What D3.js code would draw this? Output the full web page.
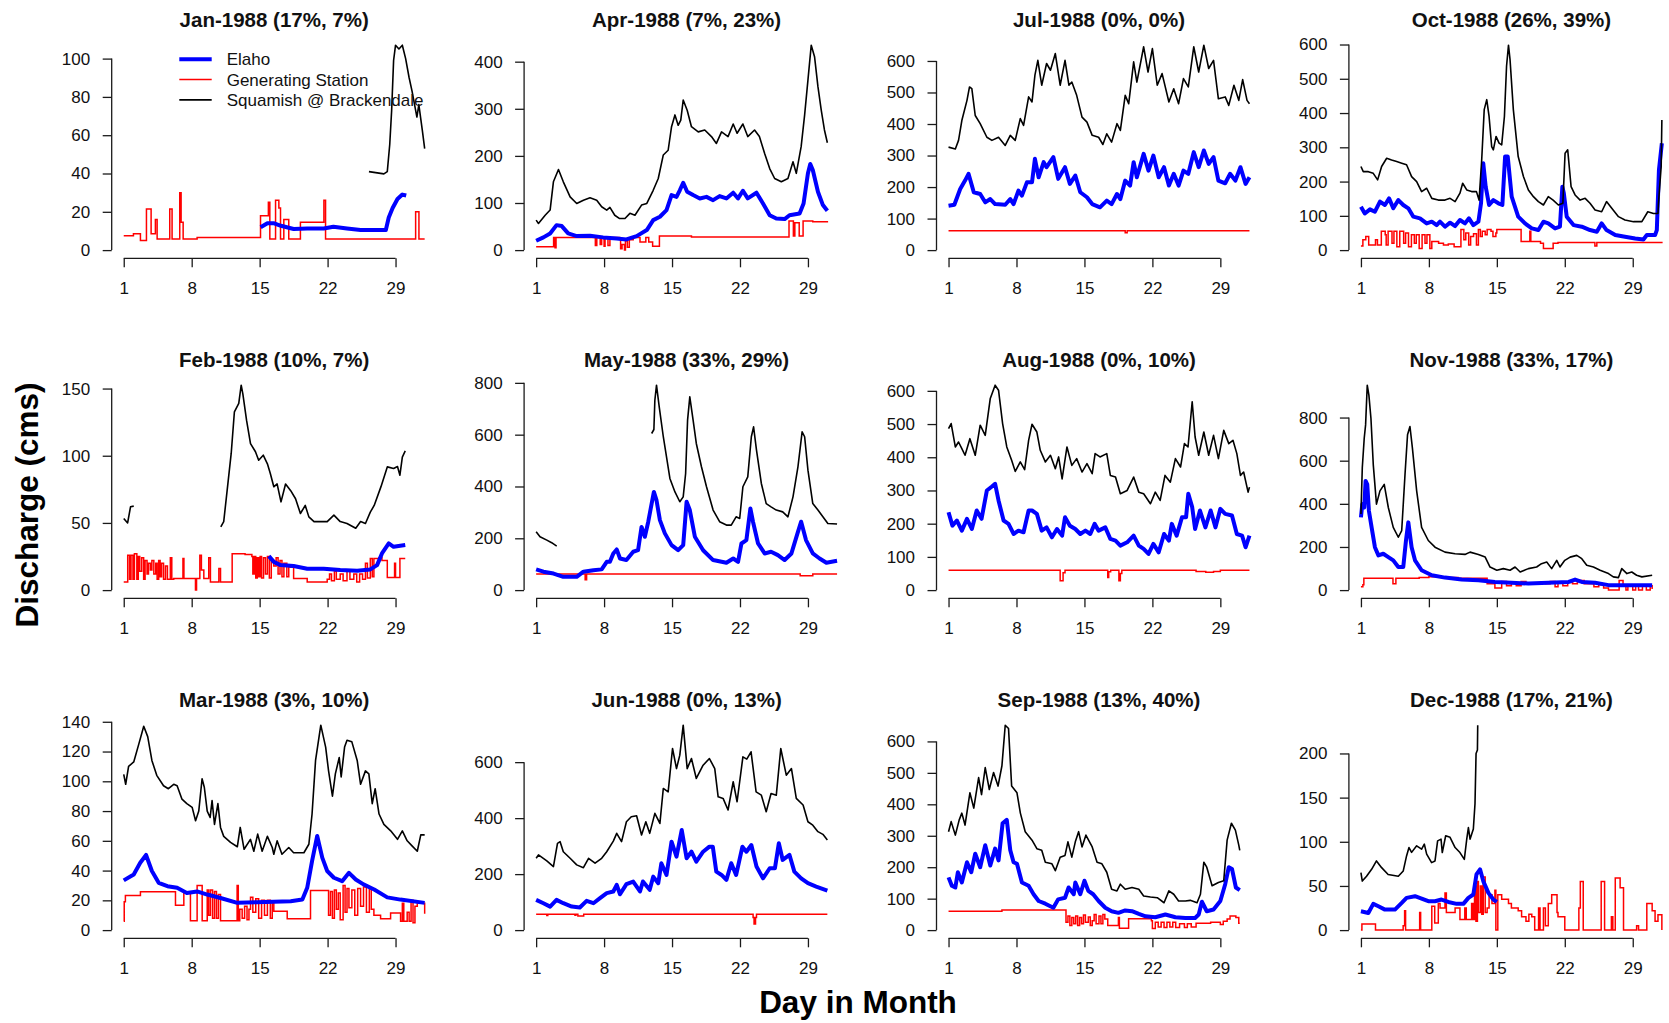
<!DOCTYPE html>
<html><head><meta charset="utf-8">
<script src="https://cdn.jsdelivr.net/npm/d3@7"></script>
<style>body{margin:0;background:#fff}</style>
</head><body><svg id="c" width="1669" height="1023"></svg>
<script>
// ---------- DATA: [day, discharge] ; null = missing ----------
const titles = ["Jan-1988 (17%, 7%)","Feb-1988 (10%, 7%)","Mar-1988 (3%, 10%)","Apr-1988 (7%, 23%)","May-1988 (33%, 29%)","Jun-1988 (0%, 13%)","Jul-1988 (0%, 0%)","Aug-1988 (0%, 10%)","Sep-1988 (13%, 40%)","Oct-1988 (26%, 39%)","Nov-1988 (33%, 17%)","Dec-1988 (17%, 21%)"];
const seriesNames = ["Elaho","Generating Station","Squamish @ Brackendale"];
const seriesColors = ["#0000ff","#ff0000","#000000"];
const yTickSteps = [20,50,20,100,200,200,100,100,100,100,200,50];
const xTickValues = [1,8,15,22,29];

const janElaho = [[15.1,11.9],[15.8,14],[16.5,14],[17.2,12.7],[18.5,11],[19.9,11.3],[21.6,11.3],[22.6,12.2],[24,11.3],[25.4,10.5],[28,10.5],[28.3,17],[28.7,22],[29.2,26.7],[29.7,29],[30.1,28.5]];
const janGen = [[1,7.5],[2.0,8.5],[2.72,5],[3.34,21.5],[3.82,8.5],[4.26,16],[4.44,5.8],[5.74,21.5],[5.98,5.8],[6.77,30],[6.91,14.5],[7.12,5.8],[8.56,6.6],[15.09,18],[15.9,25],[16.05,5.8],[16.64,26],[16.98,22],[17.15,5.8],[17.49,16],[18.0,5.8],[19.2,14.5],[21.62,26],[21.79,5.8],[31.07,20],[31.41,5.8],[32,5.8]];
const janSquamish = [[26.26,41],[27.8,39.8],[28.15,41],[28.4,55],[28.6,73],[28.8,99],[29,107],[29.35,105],[29.7,107],[30.04,100],[30.4,90],[30.7,83],[31.07,73],[31.2,69.5],[31.4,76],[31.76,62.5],[32,53]];

const febElaho = [[15.95,25.3],[16.46,21],[17.15,18.6],[18.5,17.9],[19.9,15.9],[21.6,15.9],[23.3,14.9],[25.05,14.4],[26.4,15.4],[27.1,18.6],[27.6,27.3],[28.3,34.7],[28.8,32.2],[30,33.5]];
const febGen = [[1,6],[1.41,26],[1.6,8],[1.75,26],[1.95,8],[2.1,27],[2.35,8],[2.5,25],[2.65,14],[2.85,24],[3.05,8],[3.2,22],[3.4,12],[3.55,20],[3.75,15],[3.9,22],[4.1,12],[4.3,20],[4.44,8],[4.6,22],[4.75,10],[4.9,20],[5.1,8],[5.3,18],[5.5,8],[5.8,24],[5.95,8],[6.15,8.7],[7.0,8.7],[7.1,23.5],[7.2,8.7],[8.39,0],[8.5,8.7],[8.84,26],[9.0,15],[9.25,8.7],[9.76,24],[9.93,6],[10.8,16],[10.97,6],[12.17,27],[13.5,26.5],[14.2,25],[14.3,12],[14.45,25],[14.6,9],[14.75,24],[14.9,10],[15.05,25],[15.2,9],[15.4,24],[15.6,12],[15.8,25],[16.0,9],[16.2,22],[16.46,18],[16.7,24],[16.9,12],[17.1,22],[17.3,10],[17.5,20],[17.8,10],[18.0,17],[18.5,8.7],[19.9,6],[21.96,8],[22.2,12],[22.4,7],[22.7,14],[22.9,8],[23.3,12],[23.6,7],[24.0,14],[24.3,8],[24.7,12],[25.0,6],[25.3,12],[25.6,8],[25.9,20],[26.1,9],[26.4,23.5],[26.6,10],[26.77,23.5],[27.3,24],[27.6,22],[28.15,9.4],[28.9,20],[29.0,9.4],[29.45,23.5],[30,23.5]];
const febSquamish = [[1,53.3],[1.4,50],[1.7,62],[2.03,62.5],[2.1,null],[11.0,47],[11.3,51],[11.65,74],[12.07,101.7],[12.4,132.7],[12.85,139],[13.1,152.5],[13.27,146],[13.65,126.5],[14.06,109],[14.57,103],[14.9,96.7],[15.37,100.4],[15.8,94],[16.1,86.8],[16.46,76.9],[16.8,79],[17.2,65.7],[17.67,79],[18.2,74],[18.7,68],[19.2,57],[19.7,63],[20.07,54.5],[20.6,51],[21.96,51],[22.65,55.8],[23.3,51],[24.0,49.6],[24.9,46],[25.4,51],[25.9,49.6],[26.4,58],[26.8,63],[27.5,77],[28.15,91.7],[28.8,90.5],[29.2,92],[29.45,85.5],[29.7,99],[30,103.6]];

const marElaho = [[1,33.4],[2.03,37.4],[2.7,45.3],[3.3,50.5],[3.9,39.7],[4.6,31.8],[5.5,29.5],[6.5,28.4],[7.5,25],[8.56,26],[9.6,23.9],[10.97,21.6],[12.7,18.3],[14.7,18.7],[16.46,19],[18.2,19.4],[19.4,20.5],[19.9,28.4],[20.4,46.4],[20.93,63.3],[21.45,48.7],[21.96,39.7],[22.65,35.2],[23.5,32.9],[24.2,38.5],[24.9,34],[25.7,30.7],[26.8,27.3],[28.15,22],[29.5,20.5],[32,18.3]];
const marGen = [[1,6],[1.05,19],[1.17,23.2],[2.72,25.7],[6.33,16.7],[7.19,25.7],[7.87,6.3],[8.56,30],[9.08,6.3],[9.6,27],[9.75,10],[9.93,27],[10.15,8],[10.35,26],[10.55,8],[10.75,24],[10.97,6.3],[12.68,30],[12.8,6.3],[12.95,14],[13.2,8],[13.45,16],[13.7,7],[13.9,14],[14.06,22],[14.3,12],[14.6,21],[14.9,8],[15.2,20],[15.5,10],[15.8,20],[16.1,8],[16.3,19],[16.46,12.6],[17.84,7.7],[20.24,26.6],[21.96,26.6],[22.1,10],[22.3,26],[22.5,8],[22.7,27],[22.9,14],[23.1,25],[23.3,7],[23.6,30],[23.8,12],[24.0,28],[24.2,15],[24.5,27],[24.8,10],[25.1,28],[25.4,16],[25.7,29],[26.0,12],[26.3,28],[26.5,14],[26.77,10],[27.46,7.7],[28.49,11.5],[29.52,6],[29.7,18],[29.85,6],[30.2,12],[30.4,6],[30.6,20],[30.8,5],[31.0,16],[31.24,18],[32,11]];
const marSquamish = [[1,104.6],[1.2,98],[1.5,110],[2.03,113],[2.55,125],[3.06,137],[3.47,130],[3.9,114],[4.4,104],[5.1,97],[5.6,95],[6.15,98],[6.5,97],[7.0,88],[7.5,85],[8.05,82.5],[8.4,73.5],[8.73,80],[9.07,101.7],[9.3,96],[9.6,80],[9.9,75.7],[10.1,87],[10.35,71],[10.7,85],[10.97,69],[11.3,63],[12.0,59],[12.7,56],[13.0,69],[13.4,54.3],[14.05,61],[14.4,53],[14.8,64.5],[15.26,53],[15.8,63],[16.3,55.5],[16.46,51],[16.8,60],[17.3,51],[18.0,55.5],[18.5,52],[19.56,52],[20.07,57.7],[20.4,78],[20.76,114],[21.3,137.7],[21.8,123],[22.1,107],[22.5,90],[22.8,105],[23.2,116],[23.4,103],[23.75,123],[24.0,127.6],[24.5,126.5],[25.05,114],[25.4,98],[25.9,107],[26.25,105],[26.6,85],[26.9,95],[27.3,78],[27.8,71],[28.5,66.7],[29.2,61],[29.7,66.7],[30.2,60],[30.7,56.6],[31.24,53],[31.6,64],[32,64]];

const aprElaho = [[1,19.8],[1.75,27],[2.44,35.4],[3.1,53],[3.64,51],[4.3,35.4],[5.18,29.7],[6.55,30.4],[7.9,27],[9.3,24.8],[10.3,22.7],[11.35,29.7],[12.4,42.5],[13.06,63.7],[13.75,70.8],[14.43,85],[14.95,116.8],[15.46,113],[15.8,127],[16.15,143],[16.56,124],[17.17,116.8],[17.86,109.7],[18.55,113],[19.23,106],[19.9,114.7],[20.6,109.7],[21.3,121.8],[21.8,109.7],[22.3,126],[22.8,109.7],[23.7,121.8],[24.37,99],[25.06,74],[25.74,67],[26.6,65.8],[27.1,74],[28.14,77.9],[28.55,99],[29.0,163],[29.24,182.7],[29.5,170],[30.03,124],[30.54,95.6],[31,83.5]];
const aprGen = [[1,7],[2.75,7],[2.8,27],[2.95,5],[3.05,27],[7.0,27],[7.1,10],[7.25,27],[7.6,12],[7.75,27],[8.0,8],[8.1,27],[8.4,10],[8.6,27],[9.6,25],[9.7,3],[9.85,12],[10.1,0],[10.2,20],[10.4,6],[10.6,22],[11.0,27],[11.7,17],[12.3,27],[12.6,17],[13.0,8],[13.7,30],[16.0,30],[17.0,28],[27.05,62],[27.5,30],[27.65,58],[28.1,30],[28.5,62],[29.5,60],[31,62]];
const aprSquamish = [[1,63.7],[1.24,56.6],[1.93,74],[2.44,85],[2.78,145],[3.3,171],[3.8,145],[4.5,113],[5.18,99],[5.87,106],[6.55,111],[7.24,106],[7.75,92],[8.27,85],[8.6,90.6],[9.1,74],[9.6,67],[10.15,67],[10.66,78],[11.18,74],[11.86,95.6],[12.4,99],[13.06,127],[13.58,152],[14.1,202],[14.6,212],[14.95,262],[15.3,287],[15.63,265],[15.9,276],[16.15,318.6],[16.56,297],[17,262],[17.7,251],[18.37,255],[19.06,241],[19.57,226.5],[20.1,251],[20.77,241],[21.3,267.6],[21.7,248],[22.3,267.6],[22.8,241],[23.5,255],[24.0,241],[24.54,205],[25.06,173],[25.57,152],[26.26,145],[26.94,152],[27.46,187.6],[27.8,163],[28.3,219.5],[28.66,287],[29.0,361],[29.34,435],[29.68,410.6],[30.03,347],[30.37,297],[30.7,255],[31,228]];

const mayElaho = [[1,80],[1.75,71],[2.8,64],[3.8,51.4],[5.18,51.4],[5.87,71],[6.9,77],[7.75,80],[8.27,109],[8.6,109],[8.95,141.5],[9.3,157],[9.64,122],[10.3,116],[11.0,148],[11.5,154],[11.86,244],[12.2,206],[12.55,264],[12.9,334],[13.13,379],[13.4,347],[13.75,270],[14.26,219],[14.95,173.6],[15.63,154],[16.15,173.6],[16.5,341],[16.83,309],[17.35,206],[18.2,154],[19.23,116],[20.6,105.5],[21.3,122],[21.8,109],[22.15,180],[22.66,193],[23.07,315],[23.34,264],[23.86,180],[24.54,141.5],[25.2,148],[25.9,135],[26.6,116],[27.3,141.5],[27.97,225],[28.3,264],[28.8,193],[29.5,141.5],[30.2,122],[30.9,105.5],[32,113]];
const mayGen = [[1,62],[6.0,62],[6.05,40],[6.2,62],[28.2,55],[29.5,62],[32,62]];
const maySquamish = [[1,225],[1.4,206],[2.1,193],[2.6,183],[3.12,170],[3.2,null],[12.9,604.5],[13.13,620],[13.23,733],[13.4,791],[13.68,707],[14.1,592],[14.43,514.5],[14.78,431],[15.3,379],[15.8,341],[16.15,360],[16.4,450],[16.6,656],[16.83,746],[17.17,656],[17.5,566],[18.03,476],[18.55,399],[19.23,309],[19.9,264],[20.6,251],[21.1,251],[21.6,283],[21.97,276.5],[22.3,399],[22.8,437],[23.17,592],[23.4,630],[23.7,540],[24.2,411.6],[24.7,334],[25.2,321.5],[25.74,309],[26.4,302],[26.94,283],[27.46,360],[27.97,476],[28.4,611],[28.66,592],[29.0,463],[29.5,334],[30.03,309],[30.54,283],[31.05,257],[32,255]];

const junElaho = [[1,108],[1.75,96],[2.44,84],[3.1,108],[3.8,96],[4.67,84],[5.5,80.8],[6.2,104.5],[6.9,96],[7.58,114],[8.27,132],[8.95,138],[9.3,161.6],[9.64,128],[10.3,164],[11.0,173.5],[11.7,138],[12.0,173.5],[12.7,143.8],[13.06,191],[13.58,167.5],[13.9,238.8],[14.43,197],[14.95,316],[15.46,262.6],[16.0,357.6],[16.5,256.6],[17.0,280],[17.5,244.7],[18.2,280],[18.85,298],[19.2,298],[19.56,209],[20.1,197],[20.6,179.4],[21.1,238.8],[21.6,197],[22.25,298],[22.66,280],[23.17,304],[23.7,227],[24.37,185],[25.06,221],[25.6,221],[26.0,310],[26.4,250.7],[27.1,268.5],[27.6,209],[28.3,185],[29.0,167.5],[29.85,155.6],[31,141.4]];
const junGen = [[1,57],[2.1,52],[2.2,57],[5.0,53],[5.1,57],[5.3,50],[5.9,57],[23.35,45],[23.45,22],[23.6,45],[23.7,57],[31,57]];
const junSquamish = [[1,256.6],[1.24,268.5],[2.1,247],[2.78,227],[3.2,310],[3.47,316],[3.8,280],[4.5,256.6],[5.18,233],[5.87,223],[6.4,256.6],[7.07,239],[7.75,256.6],[8.27,280],[8.95,318],[9.3,345.7],[9.8,316],[10.3,387],[10.8,405],[11.35,408.7],[11.86,340],[12.3,387],[12.7,345.7],[13.23,417],[13.75,381],[14.1,506],[14.6,494],[15.05,648.7],[15.46,577],[15.8,625],[16.15,732],[16.56,577],[17.0,613],[17.5,541.8],[18.2,589],[18.85,613],[19.4,577],[19.75,476],[20.26,470.5],[20.77,429],[21.3,530],[21.7,458.6],[22.3,619],[22.7,610.7],[23.14,637],[23.66,494],[24.2,482],[24.7,423],[25.2,488],[25.74,482],[26.2,648.7],[26.77,553.6],[27.3,577],[27.8,470.5],[28.5,447],[29.0,387],[29.5,375],[30.03,351.7],[30.54,342],[31,322]];

const julElaho = [[1,141],[1.6,144],[2.2,194],[2.7,220.6],[3.06,242],[3.6,183.5],[4.26,178],[4.78,151.6],[5.3,162],[5.8,146],[6.84,144],[7.36,162],[7.7,146],[8.2,188.8],[8.56,172.8],[9.07,215],[9.6,215],[9.9,289.5],[10.28,231],[10.8,279],[11.1,263],[11.8,294.8],[12.3,226],[13.0,263],[13.5,210],[14.06,236.5],[14.57,183.5],[15.26,167.6],[15.8,146],[16.6,135.7],[17.3,157],[17.8,146],[18.35,178],[18.7,162],[19.2,220.6],[19.7,204.7],[20.07,279],[20.4,231],[21.1,305.4],[21.6,252],[22.1,300],[22.65,231],[23.2,263],[23.7,204.7],[24.2,242],[24.7,204.7],[25.2,252],[25.7,242],[26.26,310.7],[26.77,263],[27.3,316],[27.8,273.6],[28.3,294.8],[28.8,220.6],[29.5,212],[30.0,242],[30.55,220.6],[31.07,263],[31.6,210],[32,231]];
const julGen = [[1,61],[19.2,55],[19.4,61],[32,61]];
const julSquamish = [[1,326.6],[1.7,321],[2.03,348],[2.37,411],[2.9,475],[3.16,517.5],[3.4,512],[3.75,427],[4.26,401],[4.95,358],[5.47,348],[6.15,358],[6.84,332],[7.36,364],[7.87,348],[8.39,417],[8.73,395.5],[9.25,486],[9.6,470],[9.9,555],[10.2,602],[10.6,523],[11.1,592],[11.5,570.5],[12.0,623.5],[12.5,523],[13.0,602],[13.4,523],[13.7,533],[14.2,491],[14.75,422],[15.26,406],[15.8,364],[16.46,358],[16.9,335],[17.3,369],[17.8,342.5],[18.35,401],[18.7,379.6],[19.2,491],[19.56,464.5],[20.07,597],[20.4,533],[21.1,645],[21.55,565],[22.0,639.4],[22.5,523],[23.0,560],[23.7,470],[24.2,512],[24.7,464.5],[25.2,544],[25.7,517.5],[26.26,645],[26.77,565],[27.3,650],[27.8,576],[28.3,602],[28.8,480],[29.5,486],[29.87,459],[30.4,523],[30.9,475],[31.3,541],[31.75,475],[32,464.5]];

const augElaho = [[1,234.6],[1.4,194],[1.86,209.5],[2.37,179],[2.9,214.5],[3.4,184],[3.9,239.7],[4.4,214.5],[4.95,300],[5.47,312],[5.8,320],[6.15,270],[6.67,209.5],[7.18,199.4],[7.7,169],[8.2,179],[8.73,174],[9.25,239.7],[9.6,239.7],[10.1,229.6],[10.6,179],[11.1,189],[11.65,159],[12.17,184],[12.7,164],[13.0,219.5],[13.5,194],[14.06,184],[14.57,169],[15.1,179],[15.6,169],[16.05,199.4],[16.46,179],[17.15,189],[17.67,154],[18.2,149],[18.7,134],[19.4,144],[20.07,164],[20.6,134],[21.1,124],[21.6,108.8],[22.1,139],[22.65,113.8],[23.2,169],[23.7,149],[24.0,199.4],[24.5,164],[25.05,219.5],[25.47,219.5],[25.7,290],[26.1,249.7],[26.4,184],[26.9,239.7],[27.46,189],[28.0,239.7],[28.5,189],[29.0,244.7],[29.5,229.6],[30.2,224.6],[30.7,169],[31.24,164],[31.6,129],[32,164]];
const augGen = [[1,60],[12.5,28],[12.8,52],[13.0,60],[17.4,38],[17.5,55],[17.7,60],[18.55,28],[18.7,50],[18.85,60],[26.5,56],[27.5,54],[28.3,56],[29.0,60],[32,60]];
const augSquamish = [[1,486],[1.27,501.5],[1.7,431],[2.03,446],[2.37,426],[2.7,406],[3.2,456],[3.75,406],[4.26,496.5],[4.78,466],[5.3,577],[5.8,617],[6.15,602],[6.57,501.5],[7.0,431],[7.5,391],[7.87,357.5],[8.39,386],[8.84,362.5],[9.25,451],[9.6,499.5],[10.1,476],[10.45,421],[10.97,386],[11.5,406],[12.0,365.6],[12.34,401],[12.7,335],[13.2,431],[13.7,375.6],[14.2,396],[14.75,355.5],[15.26,380.7],[15.8,350.5],[16.1,411],[16.6,401],[17.3,411],[17.67,345.4],[18.2,340.4],[18.7,290],[19.4,300],[20.07,340.4],[20.6,295],[21.1,290],[21.8,260],[22.3,295],[22.8,270],[23.3,345.4],[23.85,325],[24.37,396],[24.9,370.6],[25.3,441],[25.67,431],[26.1,567],[26.4,461],[26.77,406],[27.3,476],[27.8,406],[28.3,466],[28.8,396],[29.35,481],[29.87,441],[30.3,451],[30.7,411],[31.07,345.4],[31.4,355.5],[31.86,295],[32,310]];

const sepElaho = [[1,167.7],[1.34,141],[1.7,135.5],[1.96,184],[2.37,151.6],[2.9,216],[3.34,184],[3.75,243],[4.26,200],[4.78,270],[5.3,205.4],[5.8,259],[6.15,221.5],[6.57,339.8],[7.0,350.5],[7.36,253.8],[7.7,216],[8.05,210.8],[8.56,151.6],[9.25,141],[9.76,114],[10.28,92.5],[10.97,83.9],[11.8,71],[12.3,97.8],[13.0,103],[13.37,135.5],[13.9,114],[14.06,151.6],[14.57,114],[15.0,157],[15.4,124.7],[15.9,114],[16.46,92.5],[17.15,71],[17.8,60],[18.5,54.8],[19.2,62.4],[19.9,60],[20.6,51.6],[21.3,44],[22.3,40.9],[23.34,49.5],[24.37,40.9],[25.4,38.7],[26.4,38.7],[26.77,49.5],[27.1,90.3],[27.6,60],[28.3,65.6],[29.0,92.5],[29.5,146],[29.87,200],[30.2,194.6],[30.6,135.5],[31,127]];
const sepGen = [[1,60],[6.5,64],[13.0,64],[13.1,25],[13.3,45],[13.5,15],[13.7,40],[13.9,20],[14.1,45],[14.3,15],[14.5,40],[14.7,20],[14.9,48],[15.1,25],[15.4,42],[15.6,15],[15.8,30],[16.0,50],[16.2,20],[16.5,45],[16.7,20],[16.9,50],[17.1,35],[17.4,15],[18.5,40],[18.6,6],[19.55,36],[21.9,30],[22.0,5],[22.3,25],[22.6,10],[22.9,25],[23.2,8],[23.5,25],[23.8,10],[24.1,25],[24.4,8],[24.8,20],[25.3,8],[25.6,20],[26.0,10],[26.5,22],[28.0,25],[29.0,18],[29.3,28],[29.7,35],[30.0,45],[30.6,40],[30.9,22],[31,22]];
const sepSquamish = [[1,313],[1.27,345],[1.7,302],[2.1,350.5],[2.37,372],[2.7,334],[3.2,436.6],[3.6,388],[4.1,485],[4.4,431],[4.78,517],[5.2,447],[5.64,501],[6.1,458],[6.5,522.6],[6.84,651.6],[7.18,641],[7.5,458],[8.05,436.6],[8.4,372],[8.9,313],[9.6,286],[10.1,259],[10.6,253.8],[10.97,216],[11.65,210.8],[12.0,189],[12.5,232],[13.0,237.6],[13.3,280.6],[13.7,232],[14.06,280.6],[14.4,313],[14.75,264.5],[15.15,302],[15.8,264.5],[16.3,216],[16.8,210.8],[17.3,183.9],[17.8,130],[18.35,124.7],[18.7,146],[19.2,130],[19.9,135.5],[20.6,130],[21.1,108.6],[21.8,105.4],[22.5,103],[23.2,87],[23.7,124.7],[24.2,114],[24.7,92.5],[25.4,92.5],[25.9,94.6],[26.6,87],[26.95,114],[27.3,216],[27.6,200],[28.15,140.9],[28.8,151.6],[29.35,157],[29.7,286],[30.14,339.8],[30.55,318],[30.9,270],[31,253.8]];

const octElaho = [[1,126.8],[1.4,107],[1.93,119],[2.44,112],[2.96,141.5],[3.47,131.7],[3.9,151],[4.33,122],[4.85,146],[5.36,131.7],[5.88,122],[6.4,97.6],[7.08,92.7],[7.77,78],[8.3,83],[8.8,73],[9.14,83],[9.66,68.3],[10.18,80],[10.7,70],[11.2,87.8],[11.72,78],[12.13,92.7],[12.58,73],[13.1,83],[13.37,136.6],[13.6,253.7],[13.85,185],[14.2,131.7],[14.64,146],[15.16,136.6],[15.57,131.7],[15.85,273],[16.12,273],[16.53,156],[17.2,97.6],[17.9,78],[18.6,63.4],[19.28,58.5],[19.8,83],[20.3,78],[21.0,63.4],[21.5,68.3],[21.75,185],[21.9,166],[22.2,97.6],[22.9,73],[23.75,68.3],[24.6,58.5],[25.3,53.7],[25.8,78],[26.3,58.5],[27.2,44],[28.2,39],[29.25,34],[30.1,31],[30.45,44],[31.3,44],[31.48,58.5],[31.7,234],[32,312]];
const octGen = [[1,12],[1.2,30],[1.5,40],[1.8,15],[2.4,15],[2.5,30],[2.7,15],[3.1,55],[3.5,45],[3.6,15],[3.8,55],[4.2,20],[4.4,55],[4.7,10],[5.0,55],[5.4,20],[5.6,50],[5.9,10],[6.2,45],[6.5,20],[6.7,45],[7.0,5],[7.3,45],[7.6,20],[7.8,45],[8.1,5],[8.3,25],[9.0,20],[9.5,15],[10.0,18],[10.6,10],[11.2,10],[11.3,60],[11.6,30],[11.8,50],[12.1,15],[12.3,40],[12.6,48],[12.9,15],[13.1,60],[13.3,40],[13.5,55],[13.8,45],[14.0,60],[14.4,55],[14.6,40],[14.9,50],[15.0,60],[17.3,60],[17.5,25],[18.2,25],[18.4,55],[18.5,25],[19.5,20],[19.8,5],[20.6,5],[20.8,20],[21.3,22],[25.0,22],[25.1,12],[25.3,22],[32,20]];
const octSquamish = [[1,244],[1.24,229],[1.76,229],[2.27,224],[2.72,205],[3.13,244],[3.65,268],[4.16,263],[4.68,258.5],[5.2,253.7],[5.7,249],[6.22,214.6],[6.74,200],[7.25,170.7],[7.77,180.5],[8.3,151],[8.97,146],[9.66,146],[10.18,151],[10.7,141.5],[11.2,166],[11.48,195],[11.9,175.6],[12.4,170.7],[12.9,170.7],[13.17,146],[13.44,263],[13.7,410],[13.96,439],[14.2,390],[14.47,302],[14.64,292.7],[14.92,331.7],[15.23,312],[15.5,307],[15.78,390],[16.0,536.6],[16.2,598],[16.36,556],[16.7,410],[17.2,273],[17.74,214.6],[18.25,175.6],[18.77,156],[19.28,141.5],[19.8,131.7],[20.3,156],[20.8,146],[21.34,131.7],[21.8,136.6],[22.03,283],[22.3,292.7],[22.65,185],[23.06,161],[23.58,146],[24.1,151],[24.6,136.6],[25.12,117],[25.8,112],[26.3,141.5],[26.84,122],[27.53,97.6],[28.2,87.8],[29.08,83],[29.94,83],[30.55,112],[31.14,107],[31.6,107],[31.65,136.6],[31.93,244],[32,380]];

const novElaho = [[1,337],[1.14,398.5],[1.34,383],[1.48,506],[1.65,490],[1.82,368],[2.1,291],[2.44,199],[2.8,161],[3.3,168.6],[3.82,153],[4.33,138],[4.85,107],[5.36,107],[5.64,230],[5.88,314],[6.22,199],[6.57,138],[7.25,92],[8.3,69],[9.66,58],[11.38,49],[13.1,46],[14.8,38],[16.5,33.7],[18.25,30.7],[20.3,33.7],[22.4,38],[23.06,49],[23.75,38],[25.12,33.7],[26.5,23],[28.56,23],[31,23]];
const novGen = [[1,15],[1.2,25],[1.3,55],[4.2,55],[4.3,30],[4.6,55],[7.0,58],[8.0,62],[10.0,58],[11.0,55],[13.8,55],[14.0,30],[14.6,30],[14.8,10],[15.0,10],[15.5,40],[16.0,20],[16.5,35],[17.0,20],[17.5,40],[18.0,30],[19.0,30],[19.5,38],[20.0,30],[20.5,40],[21.0,15],[21.3,35],[21.8,20],[22.3,35],[22.8,30],[23.3,45],[24.0,30],[25.0,15],[25.5,25],[26.0,10],[26.5,0],[27.5,0],[27.6,45],[28.0,20],[28.3,0],[28.5,20],[29.0,0],[29.3,20],[29.6,0],[30.0,20],[30.4,0],[30.8,20],[31,5]];
const novSquamish = [[1,352.5],[1.14,567],[1.34,705],[1.48,766],[1.65,950],[1.82,904],[2.03,797],[2.27,582],[2.6,398.5],[2.96,460],[3.4,490],[3.82,383],[4.33,291],[4.85,245],[5.2,276],[5.54,536],[5.8,720],[6.05,758.6],[6.3,659],[6.74,460],[7.25,291],[7.94,230],[8.63,199],[9.66,176],[10.7,168.6],[11.72,165.5],[12.24,176],[13.1,165.5],[13.8,153],[14.3,107],[15.0,92],[15.67,99.6],[16.36,92],[16.88,107],[17.4,84],[18.25,99.6],[19.1,107],[19.6,122.6],[20.14,130],[20.65,99.6],[21.17,138],[21.5,107],[22.0,138],[22.55,153],[23.23,161],[23.75,145.6],[24.26,115],[24.95,107],[25.64,92],[26.5,76.6],[27.0,61.3],[27.53,58],[27.87,99.6],[28.4,76.6],[28.9,84],[29.4,69],[29.94,61.3],[31,69]];

const decElaho = [[1,21.3],[1.76,19.4],[2.27,29.7],[2.8,27],[3.47,23.2],[4.5,23.2],[5.2,30.8],[5.7,36.5],[6.57,38.4],[7.25,35.7],[7.94,32.7],[8.63,32.7],[9.3,34.6],[10.0,31.9],[10.86,29.7],[11.55,29.7],[12.07,36.5],[12.58,40.3],[12.9,63],[13.27,68.8],[13.6,55.5],[14.13,42.2],[14.64,34.6],[15.0,31.9]];
const decGen = [[1,0],[1.1,7],[2.3,7],[2.5,0],[5.2,0],[5.35,5],[5.5,22],[5.6,0],[7.05,20],[7.15,0],[8.3,27],[8.6,8],[8.97,30],[9.15,25],[9.66,42],[9.8,20],[10.7,25],[11.2,12],[11.7,25],[11.85,12],[12.2,12],[12.4,30],[12.55,12],[12.7,50],[12.85,10],[13.0,55],[13.1,20],[13.3,50],[13.45,18],[13.6,60],[13.8,20],[14.0,25],[14.2,40],[14.5,30],[14.8,45],[14.9,0],[15.1,40],[15.5,35],[16.2,30],[16.5,25],[17.2,22],[17.55,15],[18.0,10],[18.3,18],[18.6,15],[18.9,0],[19.3,25],[19.45,0],[19.8,25],[20.0,5],[20.3,30],[20.65,40],[21.2,20],[21.3,15],[22.0,0],[23.45,25],[23.6,55],[23.9,0],[25.75,55],[26.1,0],[26.8,15],[26.95,0],[27.2,59],[27.7,48],[28.05,0],[29.4,5],[29.6,0],[30.45,30],[31.0,22],[31.3,10],[31.6,17.5],[32,0]];
const decSquamish = [[1,65],[1.14,55.5],[1.58,61],[2.1,68.8],[2.6,78.3],[3.13,70.7],[3.8,63],[4.85,61],[5.36,67],[5.7,84],[5.95,93.5],[6.22,88],[6.74,95.4],[7.25,91.6],[7.53,97.3],[7.77,86],[8.28,76.4],[8.63,78.3],[8.9,101],[9.25,103],[9.38,87.8],[9.73,106.8],[10.18,105],[10.7,93.5],[11.2,87.8],[11.65,80],[11.9,103],[12.07,116],[12.24,103],[12.58,114.5],[12.75,143],[12.86,200],[13.0,204],[13.03,232]];

// table built from the named arrays (calendar order)
const elahoByMonth = [janElaho,febElaho,marElaho,aprElaho,mayElaho,junElaho,julElaho,augElaho,sepElaho,octElaho,novElaho,decElaho];
const genByMonth = [janGen,febGen,marGen,aprGen,mayGen,junGen,julGen,augGen,sepGen,octGen,novGen,decGen];
const squamishByMonth = [janSquamish,febSquamish,marSquamish,aprSquamish,maySquamish,junSquamish,julSquamish,augSquamish,sepSquamish,octSquamish,novSquamish,decSquamish];

// ---------- DRAWING ----------
const FONT = "'Liberation Sans', Arial, Helvetica, sans-serif";
const svg = d3.select("#c");
svg.append("rect").attr("width",1669).attr("height",1023).attr("fill","#fff");

const PW = 325, PH = 221.3;
const AX = "#1a1a1a";

for (let i = 0; i < 12; i++) {
  const col = Math.floor(i / 3), row = i % 3;
  const left = 111.7 + 412.4 * col;
  const bottom = 258.3 + 340 * row;
  const top = bottom - PH;
  const el = elahoByMonth[i], ge = genByMonth[i], sq = squamishByMonth[i];
  const M = d3.max([...el, ...ge, ...sq], d => d[1]);

  const x = d3.scaleLinear().domain([1 - 0.04 * 31, 32 + 0.04 * 31]).range([left, left + PW]);
  const y = d3.scaleLinear().domain([-0.04 * M, 1.04 * M]).range([bottom, top]);

  const g = svg.append("g");

  // y axis
  const yTicks = d3.range(0, 1.04 * M + 1e-9, yTickSteps[i]);
  const gy = g.append("g").attr("transform", `translate(${left},0)`)
    .call(d3.axisLeft(y).tickValues(yTicks).tickSize(9).tickPadding(12.5).tickFormat(d3.format("d")));
  gy.select(".domain").remove();
  gy.append("line").attr("x1", 0).attr("x2", 0).attr("y1", y(0)).attr("y2", y(yTicks[yTicks.length - 1]));

  // x axis
  const gx = g.append("g").attr("transform", `translate(0,${bottom})`)
    .call(d3.axisBottom(x).tickValues(xTickValues).tickSize(9).tickPadding(15).tickFormat(d3.format("d")));
  gx.select(".domain").remove();
  gx.append("line").attr("y1", 0).attr("y2", 0).attr("x1", x(1)).attr("x2", x(29));

  [gy, gx].forEach(a => {
    a.attr("font-family", FONT).attr("font-size", 17);
    a.selectAll("line").attr("stroke", AX).attr("stroke-width", 1.3);
    a.selectAll("text").attr("fill", "#111");
  });

  // series
  const lineLin = d3.line().defined(d => d[1] != null).x(d => x(d[0])).y(d => y(d[1]));
  const lineStep = d3.line().defined(d => d[1] != null).x(d => x(d[0])).y(d => y(d[1])).curve(d3.curveStepAfter);

  g.append("path").attr("d", lineStep(ge)).attr("fill", "none")
    .attr("stroke", seriesColors[1]).attr("stroke-width", 1.5).attr("stroke-linejoin", "miter");
  g.append("path").attr("d", lineLin(el)).attr("fill", "none")
    .attr("stroke", seriesColors[0]).attr("stroke-width", 4).attr("stroke-linejoin", "round");
  g.append("path").attr("d", lineLin(sq)).attr("fill", "none")
    .attr("stroke", seriesColors[2]).attr("stroke-width", 1.6).attr("stroke-linejoin", "round");

  // title
  g.append("text").attr("x", left + PW / 2).attr("y", top - 10)
    .attr("text-anchor", "middle").attr("font-family", FONT).attr("font-weight", "bold")
    .attr("font-size", 20.5).attr("fill", "#111").text(titles[i]);

  // legend in first panel
  if (i === 0) {
    const widths = [4, 1.5, 1.6];
    seriesNames.forEach((name, k) => {
      const ly = top + 22.3 + 20.3 * k;
      g.append("line").attr("x1", left + 67.6).attr("x2", left + 100).attr("y1", ly).attr("y2", ly)
        .attr("stroke", seriesColors[k]).attr("stroke-width", widths[k]);
      g.append("text").attr("x", left + 115).attr("y", ly).attr("dy", "0.35em")
        .attr("font-family", FONT).attr("font-size", 17).attr("fill", "#111").text(name);
    });
  }
}

// outer axis titles
svg.append("text").attr("x", 858).attr("y", 1013).attr("text-anchor", "middle")
  .attr("font-family", FONT).attr("font-weight", "bold").attr("font-size", 31.5).attr("fill", "#000")
  .text("Day in Month");
svg.append("text").attr("transform", "translate(38,505) rotate(-90)").attr("text-anchor", "middle")
  .attr("font-family", FONT).attr("font-weight", "bold").attr("font-size", 31.5).attr("fill", "#000")
  .text("Discharge (cms)");
</script>
</body></html>
